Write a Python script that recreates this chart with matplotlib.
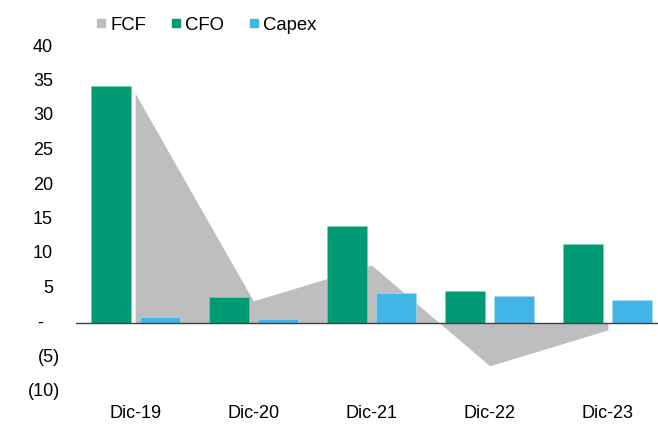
import numpy as np
import matplotlib
matplotlib.use("Agg")
import matplotlib.pyplot as plt
import matplotlib.transforms as mtransforms
from matplotlib.lines import Line2D

plt.rcParams['font.family'] = ['Liberation Sans', 'DejaVu Sans']

# data
periods = ['Dic-19', 'Dic-20', 'Dic-21', 'Dic-22', 'Dic-23']
cfo = [34.3, 3.8, 14.1, 4.6, 11.4]
capex = [0.9, 0.6, 4.3, 3.9, 3.3]
fcf = [33.3, 3.2, 8.4, -6.2, -1.0]

yticks = [40, 35, 30, 25, 20, 15, 10, 5, 0, -5, -10]

green = '#009A74'
blue = '#41B6E6'
grey = '#BEBEC0'

fig = plt.figure(figsize=(6.58, 4.24), dpi=100)
# plot area runs a bit past the right edge like the original crop
ax = fig.add_axes([76/658, 32/424, 591/658, 345/424])

x = np.arange(len(periods))
w = 0.338
off = 0.207

ax.fill_between(x, fcf, 0, color=grey, linewidth=0, zorder=1)
ax.bar(x - off, cfo, w, color=green, edgecolor='#7FCDB9', linewidth=0.4, zorder=2)
ax.bar(x + off, capex, w, color=blue, edgecolor='#A8DDF3', linewidth=0.4, zorder=2)
ax.axhline(0, color='#404040', linewidth=1.0, zorder=3)

ax.set_xlim(-0.5, 4.5)
ax.set_ylim(-10, 40)
for s in ax.spines.values():
    s.set_visible(False)

ax.set_xticks(x)
ax.set_xticklabels(periods, fontsize=13)
ax.tick_params(axis='x', length=0, pad=9)
ax.set_yticks([])

# y labels in accounting style: (5) for negatives, "-" for zero
ytrans = mtransforms.blended_transform_factory(ax.transAxes, ax.transData)
for v in yticks:
    if v < 0:
        lab, dx = '(%d)' % -v, -16
    elif v == 0:
        lab, dx = '-', -33
    else:
        lab, dx = '%d' % v, -23
    t = ytrans + mtransforms.ScaledTranslation(dx/100, 0, fig.dpi_scale_trans)
    ax.text(0, v, lab, transform=t, ha='right', va='center', fontsize=13)

handles = [Line2D([], [], marker='s', linestyle='none', markersize=6.3, color=c)
           for c in [grey, green, blue]]
fig.legend(handles, ['FCF', 'CFO', 'Capex'], loc='center left',
           bbox_to_anchor=(96/658, 1 - 25/424), ncol=3, frameon=False,
           fontsize=13.3, handlelength=0.55, handletextpad=0.25,
           columnspacing=1.3, borderpad=0, borderaxespad=0)

fig.savefig('out.png', dpi=100)
